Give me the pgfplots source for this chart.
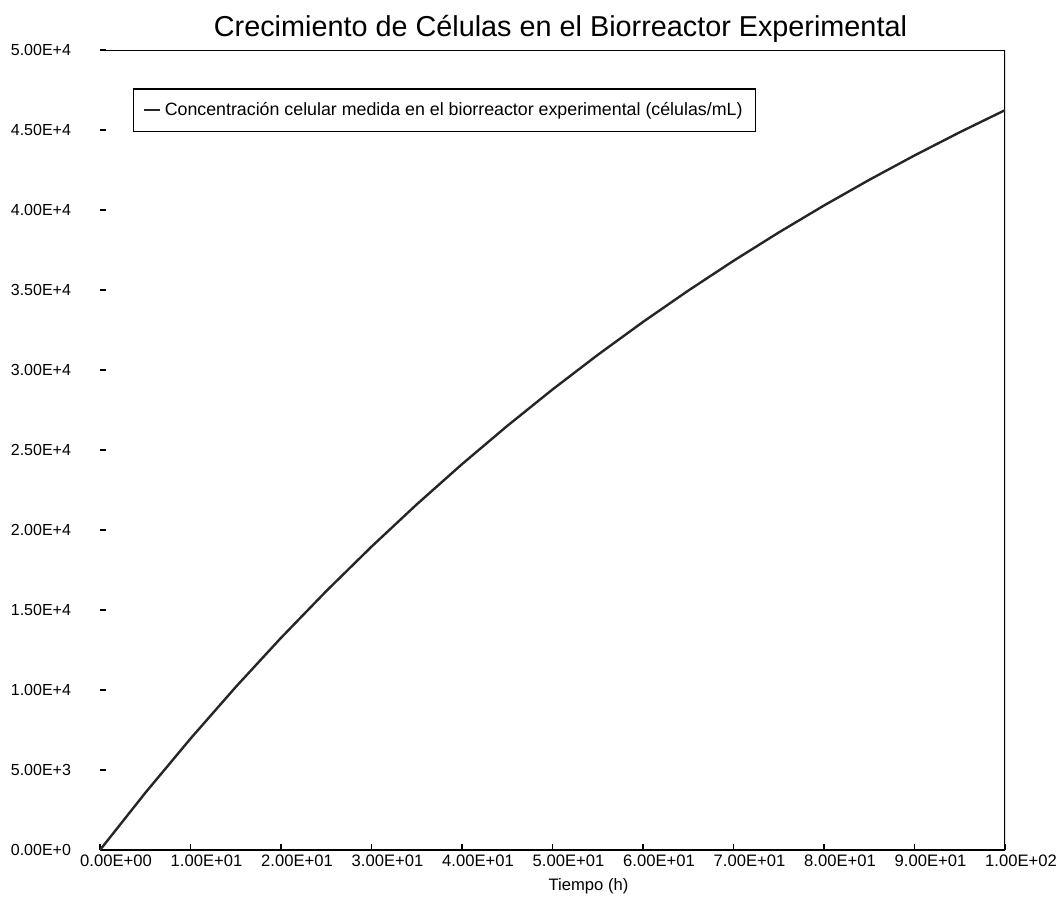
\documentclass[border=0pt]{standalone}
\usepackage{pgfplots}
\pgfplotsset{compat=1.18}
\usepackage{fontspec}
\setmainfont{Liberation Sans}
\begin{document}
\begin{tikzpicture}
\begin{axis}[
  scale only axis,
  width=452.5pt, height=400pt,
  xmin=0, xmax=100, ymin=0, ymax=50000,
  axis line style={draw=none},
  xtick={0,10,...,100},
  ytick={0,5000,...,50000},
  xticklabels={0.00E+00,1.00E+01,2.00E+01,3.00E+01,4.00E+01,5.00E+01,6.00E+01,7.00E+01,8.00E+01,9.00E+01,1.00E+02},
  yticklabels={0.00E+0,5.00E+3,1.00E+4,1.50E+4,2.00E+4,2.50E+4,3.00E+4,3.50E+4,4.00E+4,4.50E+4,5.00E+4},
  xticklabel style={font=\fontsize{8.3}{9}\selectfont, xshift=8pt, yshift=1pt},
  yticklabel style={font=\fontsize{8}{9}\selectfont, xshift=-11pt},
  tick align=inside,
  xtick pos=bottom, ytick pos=left,
  major tick length=3pt,
  tick style={black, line width=0.8pt},
  scaled ticks=false,
  title={Crecimiento de Células en el Biorreactor Experimental},
  title style={font=\fontsize{14.4}{16}\selectfont, yshift=-6pt, xshift=4pt},
  xlabel={Tiempo (h)},
  xlabel style={font=\fontsize{8.3}{9}\selectfont, yshift=1pt, xshift=18pt},
  legend style={at={(0.036,0.952)}, anchor=north west, draw=black, line width=0.8pt,
    font=\fontsize{8.9}{10}\selectfont, inner sep=4.5pt},
  legend image code/.code={\draw[#1] (0pt,0pt) -- (8pt,0pt);},
  legend cell align=left,
]
\draw[black, line width=0.9pt] (rel axis cs:0,0) -- (rel axis cs:1,0) -- (rel axis cs:1,1) -- (rel axis cs:0,1);
\coordinate (bl) at (rel axis cs:0,0);
\coordinate (tr) at (rel axis cs:1,1);
\addplot[black!85, line width=1.2pt] coordinates {
(0,0) (5,3568) (10,6961) (15,10189) (20,13260) (25,16181) (30,18959) (35,21602)
(40,24116) (45,26507) (50,28782) (55,30946) (60,33005) (65,34962) (70,36824)
(75,38596) (80,40282) (85,41885) (90,43409) (95,44860) (100,46240)
};
\addlegendentry{Concentración celular medida en el biorreactor experimental (células/mL)}
\end{axis}
\pgfresetboundingbox
\path ([xshift=-50pt,yshift=-27pt]bl) rectangle ([xshift=29pt,yshift=25pt]tr);
\end{tikzpicture}
\end{document}
